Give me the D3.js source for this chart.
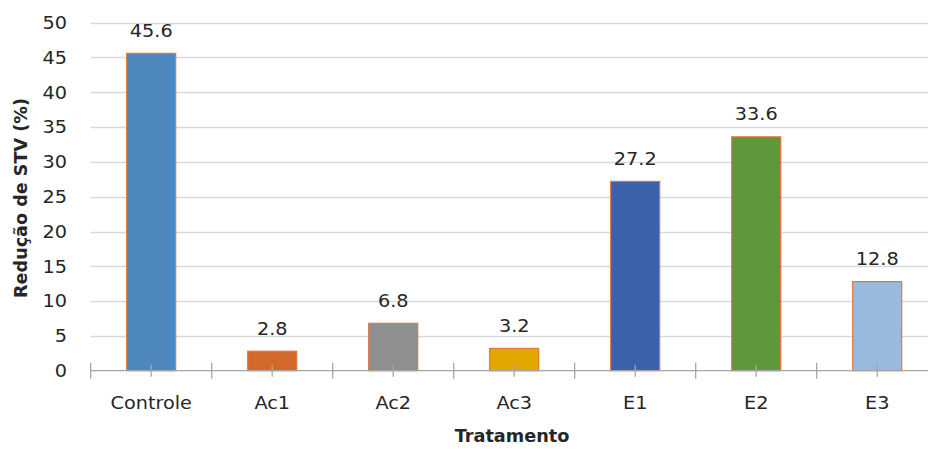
<!DOCTYPE html>
<html>
<head>
<meta charset="utf-8">
<script src="https://cdn.jsdelivr.net/npm/d3@7/dist/d3.min.js"></script>
<style>
  html, body { margin: 0; padding: 0; background: #fff; }
  svg { display: block; }
  text { font-family: "DejaVu Sans", sans-serif; fill: #262626; }
</style>
</head>
<body>
<svg id="chart" width="928" height="449"></svg>
<script>
// Treatments and the STV reduction (%) measured for each
const categories = ["Controle", "Ac1", "Ac2", "Ac3", "E1", "E2", "E3"];
const values = [45.6, 2.8, 6.8, 3.2, 27.2, 33.6, 12.8];
const barColors = ["#4F88BD", "#D2692A", "#8F8F8F", "#E2A800", "#3A61AA", "#5E983B", "#98BADF"];
const yTicks = [0, 5, 10, 15, 20, 25, 30, 35, 40, 45, 50];

(function () {
const svg = d3.select("#chart");
const plotLeft = 90.7, plotRight = 937.7, plotTop = 22.7, plotBottom = 370.7;
const widen = 1.1;   // horizontal stretch of the label glyphs

const x = d3.scaleBand().domain(categories).range([plotLeft, plotRight])
  .paddingInner(0.595).paddingOuter(0.2975);
const y = d3.scaleLinear().domain([0, 50]).range([plotBottom, plotTop]);
const cx = d => x(d) + x.bandwidth() / 2;

// Horizontal gridlines
svg.append("g")
  .selectAll("line")
  .data(yTicks.filter(d => d > 0))
  .join("line")
  .attr("x1", plotLeft).attr("x2", 928)
  .attr("y1", d => Math.round(y(d)) + 0.5).attr("y2", d => Math.round(y(d)) + 0.5)
  .attr("stroke", "#d9d9d9").attr("stroke-width", 1.3);

// Y tick labels
svg.append("g")
  .selectAll("text")
  .data(yTicks)
  .join("text")
  .attr("transform", d => `translate(67,${y(d) + 6.2}) scale(${widen},1)`)
  .attr("text-anchor", "end")
  .attr("font-size", 17.5)
  .text(d => d);

// Bars
svg.append("g")
  .selectAll("rect")
  .data(categories)
  .join("rect")
  .attr("x", d => x(d))
  .attr("width", x.bandwidth())
  .attr("y", (d, i) => y(values[i]))
  .attr("height", (d, i) => y(0) - y(values[i]))
  .attr("fill", (d, i) => barColors[i])
  .attr("stroke", "#E0773A").attr("stroke-width", 1.2);

// Value labels above each bar
svg.append("g")
  .selectAll("text")
  .data(categories)
  .join("text")
  .attr("transform", (d, i) => `translate(${cx(d)},${y(values[i]) - 16.5}) scale(${widen},1)`)
  .attr("text-anchor", "middle")
  .attr("font-size", 17.5)
  .text((d, i) => values[i].toFixed(1));

// X axis line with boundary and centre ticks
const axis = svg.append("g").attr("stroke", "#a6a6a6").attr("stroke-width", 1.3);
axis.append("line").attr("x1", plotLeft).attr("x2", 928).attr("y1", plotBottom).attr("y2", plotBottom);
const step = x.step();
const boundaries = d3.range(categories.length + 1).map(i => plotLeft + i * step);
axis.selectAll("line.b")
  .data(boundaries)
  .join("line").attr("class", "b")
  .attr("x1", d => d).attr("x2", d => d)
  .attr("y1", plotBottom - 8).attr("y2", plotBottom + 8);
axis.selectAll("line.c")
  .data(categories)
  .join("line").attr("class", "c")
  .attr("x1", cx).attr("x2", cx)
  .attr("y1", plotBottom - 6).attr("y2", plotBottom + 6);

// Category labels
svg.append("g")
  .selectAll("text")
  .data(categories)
  .join("text")
  .attr("transform", d => `translate(${cx(d)},409) scale(${widen},1)`)
  .attr("text-anchor", "middle")
  .attr("font-size", 17.5)
  .text(d => d);

// Axis titles
svg.append("text")
  .attr("transform", "translate(512,441.5) scale(1.04,1)")
  .attr("text-anchor", "middle")
  .attr("font-size", 17).attr("font-weight", "bold")
  .text("Tratamento");

svg.append("text")
  .attr("transform", "translate(26.5,198) rotate(-90) scale(1.035,1)")
  .attr("text-anchor", "middle")
  .attr("font-size", 17).attr("font-weight", "bold")
  .text("Redução de STV (%)");
})();
</script>
</body>
</html>
